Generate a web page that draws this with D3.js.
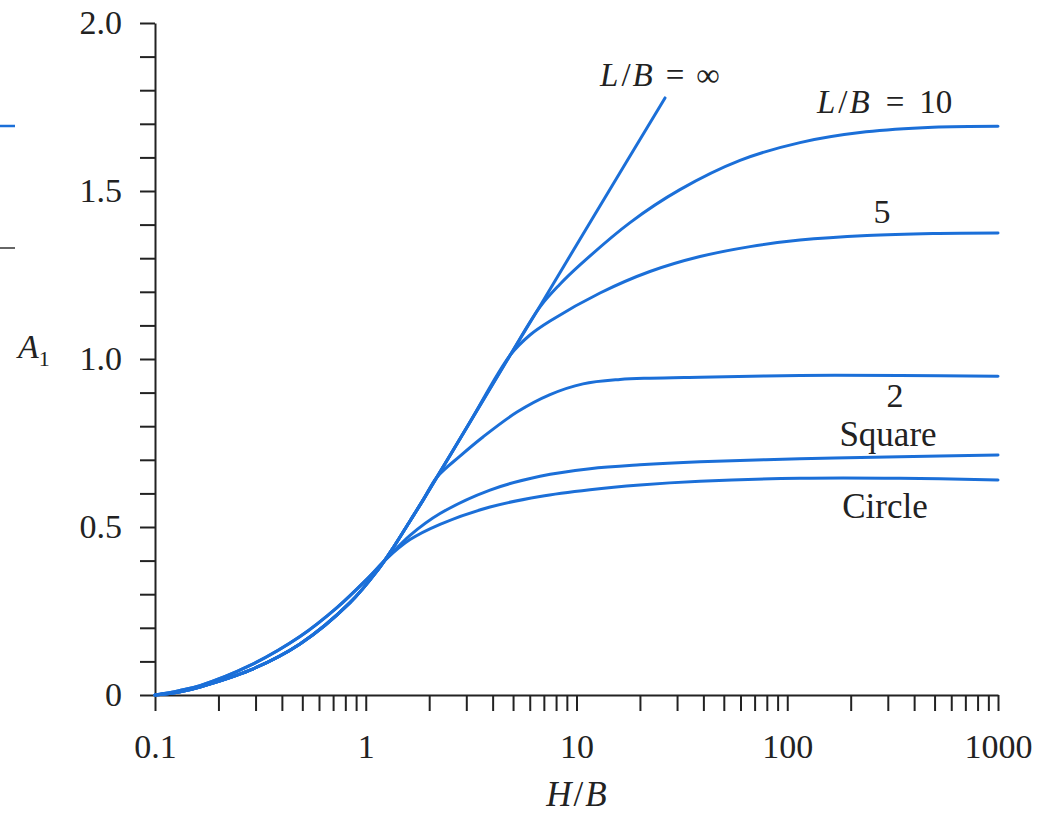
<!DOCTYPE html>
<html>
<head>
<meta charset="utf-8">
<script src="https://cdn.jsdelivr.net/npm/d3@7"></script>
<style>
  html, body { margin: 0; padding: 0; background: #fff; }
  svg { display: block; }
  text { font-family: "Liberation Serif", "DejaVu Serif", serif; fill: #222; }
</style>
</head>
<body>
<svg id="chart" width="1038" height="816"></svg>
<script>
// ---- data ----
// L/B = infinity (strip)
const hbInf = [0.1, 0.13, 0.1635, 0.2825, 0.4875, 0.842, 1.131, 1.347, 1.622, 1.87, 3.02, 4.84, 6.713, 12, 26.3];
const a1Inf = [0, 0.009, 0.024, 0.074, 0.152, 0.275, 0.369, 0.4375, 0.518, 0.580, 0.797, 1.011, 1.158, 1.422, 1.777];

// L/B = 10
const hb10 = [0.1, 0.13, 0.1635, 0.2825, 0.4875, 0.842, 1.131, 1.347, 1.622, 1.87, 3.02, 4.84, 6.713, 8.3, 10.39, 17.95, 30.97, 59.7, 114.9, 236.4, 491.6, 1000];
const a110 = [0, 0.009, 0.024, 0.074, 0.152, 0.275, 0.369, 0.4375, 0.518, 0.580, 0.797, 1.011, 1.155, 1.221, 1.280, 1.406, 1.504, 1.591, 1.644, 1.676, 1.690, 1.693];

// L/B = 5
const hb5 = [0.1, 0.13, 0.1635, 0.2825, 0.4875, 0.842, 1.131, 1.347, 1.622, 1.87, 3.02, 4.836, 6.016, 7.49, 12.93, 22.3, 38.55, 66.6, 114.9, 239, 491.6, 1000];
const a15 = [0, 0.009, 0.024, 0.074, 0.152, 0.275, 0.369, 0.4375, 0.518, 0.580, 0.797, 1.011, 1.0714, 1.113, 1.1964, 1.2604, 1.305, 1.3345, 1.3539, 1.3676, 1.3735, 1.375];

// L/B = 2
const hb2 = [0.1, 0.13, 0.1635, 0.2825, 0.4875, 0.842, 1.131, 1.347, 1.622, 1.87, 2.18, 2.80, 3.60, 5.22, 7.49, 10.74, 16.09, 22.3, 38.55, 114.9, 342.8, 1000];
const a12 = [0, 0.009, 0.024, 0.074, 0.152, 0.275, 0.369, 0.4375, 0.518, 0.580, 0.649, 0.711, 0.768, 0.842, 0.894, 0.926, 0.939, 0.943, 0.946, 0.951, 0.951, 0.949];

// Square
const hbSq = [0.1, 0.13, 0.1635, 0.2825, 0.4875, 0.73, 1.014, 1.2525, 1.622, 2.251, 3.887, 6.713, 11.59, 20.0, 38.55, 114.9, 342.8, 1000];
const a1Sq = [0, 0.013, 0.028, 0.088, 0.174, 0.260, 0.345, 0.405, 0.475, 0.540, 0.610, 0.651, 0.6735, 0.685, 0.694, 0.703, 0.709, 0.714];

// Circle
const hbCi = [0.1, 0.13, 0.1635, 0.2825, 0.4875, 0.73, 1.014, 1.2525, 1.622, 2.251, 3.887, 6.713, 11.59, 20.0, 38.55, 114.9, 342.8, 1000];
const a1Ci = [0, 0.013, 0.028, 0.088, 0.174, 0.260, 0.345, 0.405, 0.4625, 0.508, 0.5595, 0.591, 0.611, 0.625, 0.636, 0.645, 0.645, 0.640];

const xTickLabels = ["0.1", "1", "10", "100", "1000"];
const yTickLabels = ["0", "0.5", "1.0", "1.5", "2.0"];

// label anchors in data units (H/B, A1)
const curveLabelText = ["5", "2", "Square", "Circle"];
const curveLabelHB   = [281.6, 324.6, 300.6, 290.9];
const curveLabelA1   = [1.405, 0.857, 0.741, 0.527];

// ---- chart ----
const svg = d3.select("#chart");
const W = 1038, H = 816;
const margin = { left: 155, right: 40, top: 23, bottom: 121 };
const blue = "#1b6fd8";
const fs = 34;

svg.append("rect").attr("width", W).attr("height", H).attr("fill", "#fff");

const x = d3.scaleLog().domain([0.1, 1000]).range([margin.left, W - margin.right]);
const y = d3.scaleLinear().domain([0, 2]).range([H - margin.bottom, margin.top]);

const xTicks = [];
for (let e = -1; e < 3; e++) for (let m = 1; m < 10; m++) xTicks.push(+(m * Math.pow(10, e)).toPrecision(3));
xTicks.push(1000);
const yTicks = d3.range(0, 21).map(i => +(i / 10).toFixed(1));

const xAxis = d3.axisBottom(x)
  .tickValues(xTicks)
  .tickSize(16)
  .tickSizeOuter(0)
  .tickPadding(23)
  .tickFormat(d => {
    const i = [0.1, 1, 10, 100, 1000].indexOf(d);
    return i >= 0 ? xTickLabels[i] : "";
  });

const yAxis = d3.axisLeft(y)
  .tickValues(yTicks)
  .tickSize(15)
  .tickSizeOuter(0)
  .tickPadding(18)
  .tickFormat(d => {
    const i = [0, 0.5, 1, 1.5, 2].findIndex(v => Math.abs(v - d) < 1e-9);
    return i >= 0 ? yTickLabels[i] : "";
  });

const gx = svg.append("g").attr("transform", `translate(0,${y(0)})`).call(xAxis);
const gy = svg.append("g").attr("transform", `translate(${x(0.1)},0)`).call(yAxis);

[gx, gy].forEach(g => {
  g.select(".domain").attr("stroke", "#222").attr("stroke-width", 2);
  g.selectAll(".tick line").attr("stroke", "#222").attr("stroke-width", 2);
  g.selectAll(".tick text").attr("font-size", fs).attr("fill", "#222")
    .attr("font-family", '"Liberation Serif", serif');
});

// curves
const line = d3.line()
  .x(d => x(d[0]))
  .y(d => y(d[1]))
  .curve(d3.curveCatmullRom.alpha(0.5));

const series = [
  [hbCi, a1Ci], [hbSq, a1Sq], [hb2, a12], [hb5, a15], [hb10, a110], [hbInf, a1Inf]
];
svg.append("g").selectAll("path")
  .data(series.map(([xs, ys]) => xs.map((v, i) => [v, ys[i]])))
  .join("path")
  .attr("d", line)
  .attr("fill", "none")
  .attr("stroke", blue)
  .attr("stroke-width", 3)
  .attr("stroke-linecap", "round")
  .attr("stroke-linejoin", "round");

// curve labels
function lbText(hb, a, size, anchor) {
  return svg.append("text")
    .attr("x", x(hb)).attr("y", y(a))
    .attr("text-anchor", anchor || "middle")
    .attr("font-size", size || fs);
}
function addLB(el, rest, gap1, gap2) {
  el.append("tspan").attr("font-style", "italic").text("L");
  el.append("tspan").attr("dx", 3).text("/");
  el.append("tspan").attr("dx", 2).attr("font-style", "italic").text("B");
  el.append("tspan").attr("dx", gap1).text("=");
  el.append("tspan").attr("dx", gap2).text(rest);
}
addLB(lbText(12.93, 1.8125, 33, "start"), "\u221E", 13, 12);
addLB(lbText(138.4, 1.732, 33, "start"), "10", 16, 15);

curveLabelText.forEach((t, i) => {
  lbText(curveLabelHB[i], curveLabelA1[i], i < 2 ? 34 : 35).text(t);
});

// axis titles
const yt = svg.append("text").attr("x", 18).attr("y", 358).attr("font-size", fs);
yt.append("tspan").attr("font-style", "italic").text("A");
yt.append("tspan").attr("font-size", 22).attr("dy", 8).text("1");

const xt = svg.append("text").attr("x", x(10)).attr("y", 806)
  .attr("text-anchor", "middle").attr("font-size", fs + 1);
xt.append("tspan").attr("font-style", "italic").text("H");
xt.append("tspan").attr("dx", 2).text("/");
xt.append("tspan").attr("dx", 2).attr("font-style", "italic").text("B");

// stray marks at the left edge of the scan
svg.append("line").attr("x1", 0).attr("x2", 15).attr("y1", 126).attr("y2", 126)
  .attr("stroke", blue).attr("stroke-width", 2.5);
svg.append("line").attr("x1", 0).attr("x2", 15).attr("y1", 248).attr("y2", 248)
  .attr("stroke", "#333").attr("stroke-width", 1.5);
</script>
</body>
</html>
